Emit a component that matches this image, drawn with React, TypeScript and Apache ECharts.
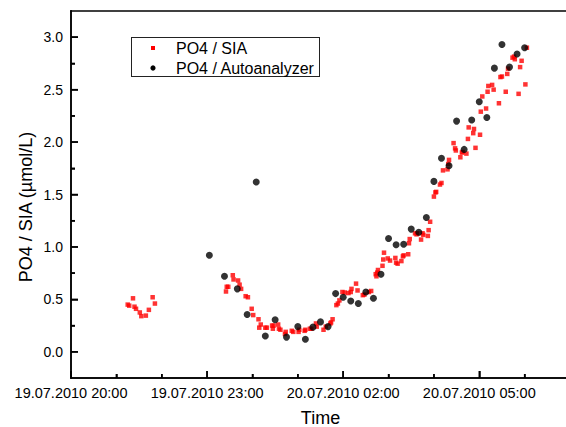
import React, { useEffect, useRef } from "react";
import * as echarts from "echarts";

// PO4 / SIA measurements (clock time, value µmol/L)
const siaTimes = [
  "21:15","21:17","21:22","21:24","21:26","21:31","21:33","21:39","21:43","21:48","21:51",
  "23:25","23:26","23:28","23:34","23:35","23:41","23:43","23:45","23:51","23:54","23:59",
  "00:01","00:08","00:09","00:11","00:17","00:19","00:26","00:27","00:28","00:34","00:35","00:37","00:43","00:44","00:52","00:54",
  "01:01","01:02","01:09","01:10","01:16","01:18","01:24","01:25","01:34","01:37","01:43","01:44","01:46","01:51","01:53","01:55","01:59",
  "02:02","02:07","02:10","02:11","02:17","02:19","02:26","02:28","02:34","02:37","02:43","02:44","02:45","02:46","02:52","02:53","02:54","02:59",
  "03:02","03:09","03:10","03:12","03:17","03:19","03:20","03:26","03:27","03:28","03:35","03:37","03:38","03:43","03:45","03:46","03:52","03:53","03:55",
  "04:00","04:02","04:03","04:08","04:10","04:12","04:18","04:19","04:20","04:26","04:28","04:29","04:35","04:37","04:38","04:43","04:45","04:46","04:52","04:53","04:55",
  "05:01","05:02","05:04","05:09","05:11","05:12","05:17","05:19","05:26","05:28","05:30","05:35","05:37","05:38","05:44","05:46","05:47","05:52","05:54","05:56",
  "06:01","06:03",
];
const siaValues = [
  0.45, 0.44, 0.51, 0.43, 0.41, 0.375, 0.34, 0.345, 0.40, 0.52, 0.46,
  0.575, 0.62, 0.62, 0.73, 0.69, 0.68, 0.64, 0.60, 0.53, 0.52, 0.41,
  0.35, 0.31, 0.23, 0.26, 0.23, 0.23, 0.25, 0.22, 0.25, 0.26, 0.22, 0.21, 0.17, 0.19, 0.20, 0.19,
  0.19, 0.21, 0.20, 0.21, 0.22, 0.22, 0.27, 0.24, 0.21, 0.24, 0.27, 0.28, 0.31, 0.445, 0.46, 0.49, 0.57,
  0.565, 0.56, 0.57, 0.60, 0.65, 0.585, 0.54, 0.545, 0.57, 0.58, 0.74, 0.72, 0.755, 0.78, 0.82, 0.88, 0.945, 0.89,
  0.87, 0.895, 0.85, 0.84, 0.865, 0.91, 0.92, 0.93, 1.035, 1.075, 1.13, 1.12, 1.13, 1.07, 1.13, 1.115, 1.105, 1.16, 1.24,
  1.48, 1.52, 1.525, 1.595, 1.61, 1.73, 1.74, 1.79, 1.83, 1.99, 1.94, 1.92, 1.855, 1.90, 1.905, 1.89, 2.03, 2.14, 2.085, 2.125, 1.945,
  2.07, 2.29, 2.435, 2.32, 2.48, 2.535, 2.545, 2.50, 2.37, 2.62, 2.625, 2.48, 2.65, 2.70, 2.805, 2.815, 2.79, 2.46, 2.715, 2.775,
  2.55, 2.90,
];

// PO4 / Autoanalyzer measurements
const aaTimes = [
  "23:03","23:23","23:40","23:53","00:05","00:17","00:30","00:45","01:00","01:10","01:20","01:30","01:40","01:50",
  "02:00","02:10","02:20","02:30","02:40","02:50","03:00","03:10","03:20","03:30","03:40","03:50",
  "04:00","04:10","04:20","04:30","04:40","04:50","05:00","05:10","05:20","05:30","05:40","05:50","06:00",
];
const aaValues = [
  0.92, 0.72, 0.60, 0.355, 1.62, 0.15, 0.305, 0.14, 0.24, 0.12, 0.235, 0.285, 0.24, 0.555,
  0.52, 0.485, 0.46, 0.57, 0.51, 0.74, 1.08, 1.02, 1.025, 1.17, 1.14, 1.28,
  1.625, 1.845, 1.775, 2.20, 1.93, 2.21, 2.385, 2.235, 2.705, 2.93, 2.715, 2.84, 2.90,
];

// axis ticks (x in hours after 19.07.2010 20:00)
const xMajorTicks = [0, 3, 6, 9];
const xMinorTicks = [1, 2, 4, 5, 7, 8, 10];
const xTickLabels = ["19.07.2010 20:00", "19.07.2010 23:00", "20.07.2010 02:00", "20.07.2010 05:00"];
const yMajorTicks = [0, 0.5, 1.0, 1.5, 2.0, 2.5, 3.0];
const yMinorTicks = [0.25, 0.75, 1.25, 1.75, 2.25, 2.75];
const seriesNames = ["PO4 / SIA", "PO4 / Autoanalyzer"];

const X_MIN = 0, X_MAX = 11, Y_MIN = -0.25, Y_MAX = 3.25;
const GRID = { left: 71, top: 11, width: 499, height: 367 };
const START_MIN = 20 * 60;
const toHours = (t: string) => {
  const [h, m] = t.split(":").map(Number);
  return (((h * 60 + m - START_MIN) + 1440) % 1440) / 60;
};

const FONT = 'Arial, "Liberation Sans", sans-serif';
const tickLS = { color: "#000", width: 1.5 };

export default function App() {
  const ref = useRef<HTMLDivElement>(null);
  useEffect(() => {
    document.body.style.margin = "0";
    const chart = echarts.init(ref.current!, undefined, { renderer: "svg" });
    const sia = siaTimes.map((t, i) => [toHours(t), siaValues[i]]);
    const aa = aaTimes.map((t, i) => [toHours(t), aaValues[i]]);
    chart.setOption({
      animation: false,
      textStyle: { fontFamily: FONT },
      grid: { ...GRID, show: false, outerBoundsMode: "none" },
      xAxis: [
        {
          type: "value", min: X_MIN, max: X_MAX, position: "bottom",
          name: "Time", nameLocation: "middle", nameGap: 31,
          nameTextStyle: { fontSize: 18, color: "#000" },
          axisLine: { show: true, onZero: false, lineStyle: { color: "#000", width: 1.5 } },
          axisTick: { show: true, inside: true, length: 7, customValues: xMajorTicks, lineStyle: tickLS },
          axisLabel: {
            show: true, customValues: xMajorTicks, margin: 7, fontSize: 14.5, color: "#000",
            formatter: (v: number) => xTickLabels[xMajorTicks.indexOf(Math.round(v))] ?? "",
          },
          splitLine: { show: false },
        },
        {
          type: "value", min: X_MIN, max: X_MAX, position: "bottom",
          axisLine: { show: false, onZero: false },
          axisTick: { show: true, inside: true, length: 4, customValues: xMinorTicks, lineStyle: tickLS },
          axisLabel: { show: false },
          splitLine: { show: false },
        },
      ],
      yAxis: [
        {
          type: "value", min: Y_MIN, max: Y_MAX, position: "left",
          axisLine: { show: true, onZero: false, lineStyle: { color: "#000", width: 1.5 } },
          axisTick: { show: true, inside: true, length: 7, customValues: yMajorTicks, lineStyle: tickLS },
          axisLabel: {
            show: true, customValues: yMajorTicks, margin: 8, fontSize: 14, color: "#000",
            formatter: (v: number) => v.toFixed(1),
          },
          splitLine: { show: false },
        },
        {
          type: "value", min: Y_MIN, max: Y_MAX, position: "left",
          axisLine: { show: false, onZero: false },
          axisTick: { show: true, inside: true, length: 4, customValues: yMinorTicks, lineStyle: tickLS },
          axisLabel: { show: false },
          splitLine: { show: false },
        },
      ],
      series: [
        {
          name: seriesNames[0], type: "scatter", xAxisIndex: 0, yAxisIndex: 0,
          symbol: "rect", symbolSize: 4.5, itemStyle: { color: "#ff0000" },
          data: sia,
        },
        {
          name: seriesNames[1], type: "scatter", xAxisIndex: 0, yAxisIndex: 0,
          symbol: "circle", symbolSize: 7, itemStyle: { color: "#000000" },
          data: aa,
        },
      ],
    });

    // pixel positions from the axes (with a fallback on the grid box)
    const xPix = (v: number) => {
      let r: any = null;
      try { r = chart.convertToPixel({ xAxisIndex: 0 } as any, v); } catch (e) { r = null; }
      if (Array.isArray(r)) r = r[0];
      return Number.isFinite(r) ? (r as number) : GRID.left + ((v - X_MIN) / (X_MAX - X_MIN)) * GRID.width;
    };
    const yPix = (v: number) => {
      let r: any = null;
      try { r = chart.convertToPixel({ yAxisIndex: 0 } as any, v); } catch (e) { r = null; }
      if (Array.isArray(r)) r = r[1];
      return Number.isFinite(r) ? (r as number) : GRID.top + ((Y_MAX - v) / (Y_MAX - Y_MIN)) * GRID.height;
    };
    const left = xPix(X_MIN), right = xPix(X_MAX), bottom = yPix(Y_MIN), top = yPix(Y_MAX);
    const lw = 1.5;
    const bar = (x: number, y: number, w: number, h: number, fill = "#000") => ({
      type: "rect", silent: true, z: 100, shape: { x, y, width: w, height: h }, style: { fill },
    });
    const g: any[] = [
      bar(left - lw / 2, top - lw / 2, right - left + lw, lw),
      bar(left - lw / 2, top - lw / 2, lw, bottom - top + lw),
      bar(left - lw / 2, bottom - lw / 2, right - left + lw, lw),
    ];
    xMajorTicks.forEach((v) => { const X = xPix(v); g.push(bar(X - lw / 2, bottom - 7, lw, 7)); });
    xMinorTicks.forEach((v) => { const X = xPix(v); g.push(bar(X - lw / 2, bottom - 4, lw, 4)); });
    yMajorTicks.forEach((v) => { const Y = yPix(v); g.push(bar(left, Y - lw / 2, 7, lw)); });
    yMinorTicks.forEach((v) => { const Y = yPix(v); g.push(bar(left, Y - lw / 2, 4, lw)); });

    // y axis title
    g.push({
      type: "text", x: 26, y: 207, rotation: Math.PI / 2, silent: true, z: 100,
      style: { text: "PO4 / SIA (µmol/L)", font: "18px " + FONT, fill: "#000", align: "center", verticalAlign: "middle" },
    });

    // legend box
    const lx = 131, ly = 37, lwid = 189, lh = 40;
    g.push(bar(lx, ly, lwid, 1, "#222"), bar(lx, ly + lh - 1, lwid, 1, "#222"),
      bar(lx, ly, 1, lh, "#222"), bar(lx + lwid - 1, ly, 1, lh, "#222"));
    g.push({ type: "rect", silent: true, z: 100, shape: { x: 151, y: 46, width: 4, height: 4 }, style: { fill: "#ff0000" } });
    g.push({ type: "circle", silent: true, z: 100, shape: { cx: 153, cy: 68, r: 2.6 }, style: { fill: "#000" } });
    g.push({
      type: "text", x: 176, y: 48, silent: true, z: 100,
      style: { text: seriesNames[0], font: "16px " + FONT, fill: "#000", align: "left", verticalAlign: "middle" },
    });
    g.push({
      type: "text", x: 176, y: 68, silent: true, z: 100,
      style: { text: seriesNames[1], font: "16px " + FONT, fill: "#000", align: "left", verticalAlign: "middle" },
    });

    chart.setOption({ graphic: g });
    return () => chart.dispose();
  }, []);
  return <div ref={ref} style={{ width: 566, height: 427 }} />;
}
